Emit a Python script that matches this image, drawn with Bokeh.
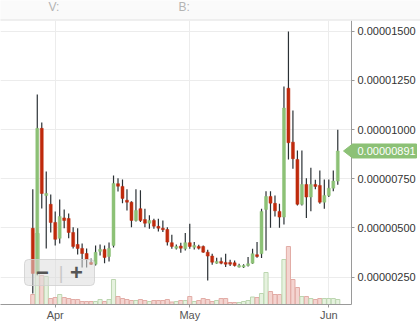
import numpy as np
import pandas as pd
from bokeh.plotting import figure
from bokeh.core.properties import value
from bokeh.models import (ColumnDataSource, Range1d, FixedTicker, PrintfTickFormatter,
                          DatetimeTickFormatter, MonthsTicker, Label, BoxAnnotation)
from bokeh.embed import file_html
from bokeh.resources import INLINE

# ---------------- data (prices in satoshi, 1e-8 BTC) ----------------
start_date = "2018-03-27"
open_sat = [498, 269, 1006, 665, 620, 528, 447, 551, 548, 477,
            416, 396, 370, 325, 315, 381, 391, 355, 411, 725,
            711, 641, 631, 538, 598, 543, 524, 538, 508, 499,
            492, 425, 397, 408, 394, 425, 402, 406, 406, 377,
            357, 321, 330, 325, 325, 323, 301, 301, 309, 321,
            364, 369, 594, 660, 625, 584, 555, 1210, 936, 848,
            620, 721, 657, 721, 716, 631, 665, 702, 738]
close_sat = [269, 1006, 675, 675, 528, 442, 558, 538, 477, 406,
             396, 370, 340, 315, 376, 391, 350, 396, 726, 712,
             650, 631, 538, 589, 538, 524, 538, 509, 499, 491,
             428, 406, 406, 397, 425, 406, 411, 397, 377, 357,
             326, 330, 321, 316, 316, 309, 309, 309, 318, 369,
             355, 584, 660, 626, 587, 555, 1109, 933, 852, 620,
             721, 657, 721, 711, 631, 665, 702, 738, 891]
high_sat = [696, 1178, 1036, 787, 670, 584, 645, 594, 574, 503,
            498, 421, 396, 345, 411, 416, 411, 426, 767, 753,
            746, 696, 635, 696, 691, 598, 564, 547, 547, 538,
            504, 465, 416, 425, 474, 521, 428, 415, 411, 389,
            369, 349, 350, 369, 338, 335, 318, 315, 352, 394,
            428, 598, 687, 687, 665, 623, 1219, 1498, 1097, 894,
            894, 753, 806, 745, 792, 746, 746, 792, 999]
low_sat = [167, 259, 599, 396, 477, 411, 421, 498, 447, 396,
           365, 299, 299, 312, 309, 360, 320, 330, 401, 685,
           625, 589, 504, 533, 530, 504, 496, 496, 482, 479,
           411, 394, 391, 374, 386, 394, 391, 391, 374, 233,
           313, 318, 315, 301, 306, 304, 299, 296, 304, 318,
           349, 347, 386, 501, 558, 501, 518, 848, 801, 614,
           614, 550, 585, 696, 623, 598, 657, 687, 720]
volume = [10, 71, 29, 28, 6, 7, 10, 7, 6, 5,
          5, 3, 3, 3, 3, 5, 3, 5, 25, 8,
          6, 5, 4, 4, 5, 4, 3, 4, 4, 4,
          5, 2.5, 3, 4, 4, 8, 3, 4, 6, 5,
          3, 4, 6, 6, 2, 2, 2, 3, 4, 7.5,
          7, 11, 32, 13, 10, 10, 45, 58, 25, 17,
          8, 8, 6, 5, 6, 6, 6, 6, 5]
y_tick_sat = [250, 500, 750, 1000, 1250, 1500]
header_labels = ["V:", "B:"]
last_price_text = "0.00000891"

# ---------------- build ----------------
dates = pd.date_range(start_date, periods=len(open_sat), freq="D")
o = np.array(open_sat) * 1e-8
c = np.array(close_sat) * 1e-8
h = np.array(high_sat) * 1e-8
l = np.array(low_sat) * 1e-8
up = c >= o

GREEN = "#8cc176"
RED = "#bf2a0c"
WICK = "#2b3135"
FONT = "Liberation Sans"

src = ColumnDataSource(dict(
    date=dates, open=o, close=c, high=h, low=l,
    top=np.maximum(o, c), bottom=np.minimum(o, c), vol=volume,
    body=[GREEN if u else RED for u in up],
    vfill=["#e6f2df" if u else "#f4d4d0" for u in up],
    vline=["#bcd6b0" if u else "#e2aca6" for u in up],
))

# layout geometry (pixels)
W, H = 420, 331
FR_L, FR_R, FR_T, FR_B = 0, 351, 20, 304
day = pd.Timedelta(days=1)
x0 = dates[0] - 7.2 * day
x1 = dates[0] + 71.06 * day
y0, y1 = 111e-8, 1554e-8

def sx(px):  # canvas pixel -> data x (for decorations outside the frame)
    return x0 + (x1 - x0) * ((px - FR_L) / (FR_R - FR_L))

def sy(py):  # canvas pixel -> data y
    return y0 + (y1 - y0) * ((FR_B - py) / (FR_B - FR_T))

p = figure(width=W, height=H, x_axis_type="datetime", y_axis_location="right",
           x_range=Range1d(x0, x1), y_range=Range1d(y0, y1),
           output_backend="svg", toolbar_location=None,
           min_border_left=FR_L, min_border_right=W - FR_R,
           min_border_top=FR_T, min_border_bottom=H - FR_B)
p.extra_y_ranges = {"vol": Range1d(0, FR_B - FR_T)}
p.outline_line_color = None
p.background_fill_color = "white"
p.border_fill_color = "white"

# grid
p.xgrid.grid_line_color = "#ececec"
p.ygrid.grid_line_color = "#ececec"

# axes
xa = p.xaxis[0]
xa.ticker = MonthsTicker(months=list(range(12)))
xa.formatter = DatetimeTickFormatter(months="%b", days="%b", years="%b")
ya = p.yaxis[0]
ya.ticker = FixedTicker(ticks=[v * 1e-8 for v in y_tick_sat])
ya.formatter = PrintfTickFormatter(format="%.8f")
for ax in (xa, ya):
    ax.axis_line_color = "#9a9a9a"
    ax.major_tick_line_color = "#9a9a9a"
    ax.minor_tick_line_color = None
    ax.major_tick_out = 3
    ax.major_tick_in = 0
    ax.major_label_text_font = FONT
    ax.major_label_text_font_size = "11px"
xa.major_label_text_color = "#555555"
ya.major_label_text_color = "#333333"
xa.major_label_standoff = 1
ya.major_label_standoff = 3

# volume
p.vbar(x="date", top="vol", bottom=0, width=0.92 * day, source=src, y_range_name="vol",
       fill_color="vfill", line_color="vline", line_width=1)

# candles
p.segment(x0="date", y0="high", x1="date", y1="low", source=src, line_color=WICK, line_width=1.2)
p.vbar(x="date", top="top", bottom="bottom", width=0.66 * day, source=src,
       fill_color="body", line_color="body", line_width=0.5)

# header band (drawn on overlay level so it is not clipped to the frame)
p.quad(left=[sx(0)], right=[sx(W)], top=[sy(0)], bottom=[sy(FR_T)], level="overlay",
       fill_color="#fafafa", line_color=None)
p.segment(x0=[sx(0)], x1=[sx(W)], y0=[sy(FR_T - 0.5)], y1=[sy(FR_T - 0.5)], level="overlay",
          line_color="#e2e2e2", line_width=1)
p.text(x=[sx(48), sx(178)], y=[sy(6), sy(6)], text=header_labels, level="overlay",
       text_font=value(FONT), text_font_size="12px", text_color="#b4b4b4",
       text_baseline="middle")

# zoom control
p.add_layout(BoxAnnotation(left=24, right=94, bottom=19, top=45,
                           left_units="screen", right_units="screen",
                           bottom_units="screen", top_units="screen",
                           fill_color="#dcdcdc", fill_alpha=0.55, line_color="#d0d0d0",
                           line_alpha=0.8, border_radius=4))
p.add_layout(Label(x=42, y=32, x_units="screen", y_units="screen", text="\u2212",
                   text_font=FONT, text_font_size="22px", text_font_style="bold",
                   text_color="#555555", text_align="center", text_baseline="middle"))
p.add_layout(Label(x=60.5, y=32, x_units="screen", y_units="screen", text="|",
                   text_font=FONT, text_font_size="18px",
                   text_color="#c8c8c8", text_align="center", text_baseline="middle"))
p.add_layout(Label(x=76, y=32, x_units="screen", y_units="screen", text="+",
                   text_font=FONT, text_font_size="22px", text_font_style="bold",
                   text_color="#555555", text_align="center", text_baseline="middle"))

# last price tag (overlay level, sits over the right axis)
last = c[-1]
half = (y1 - y0) / (FR_B - FR_T) * 7
p.patch(x=[sx(343), sx(352), sx(416), sx(416), sx(352)],
        y=[last, last + half, last + half, last - half, last - half],
        level="overlay", fill_color=GREEN, line_color=GREEN)
p.text(x=[sx(357)], y=[last], text=[last_price_text], level="overlay",
       text_font=value(FONT), text_font_size="11px", text_color="white",
       text_baseline="middle")

open("out.html", "w").write(file_html(p, INLINE))
